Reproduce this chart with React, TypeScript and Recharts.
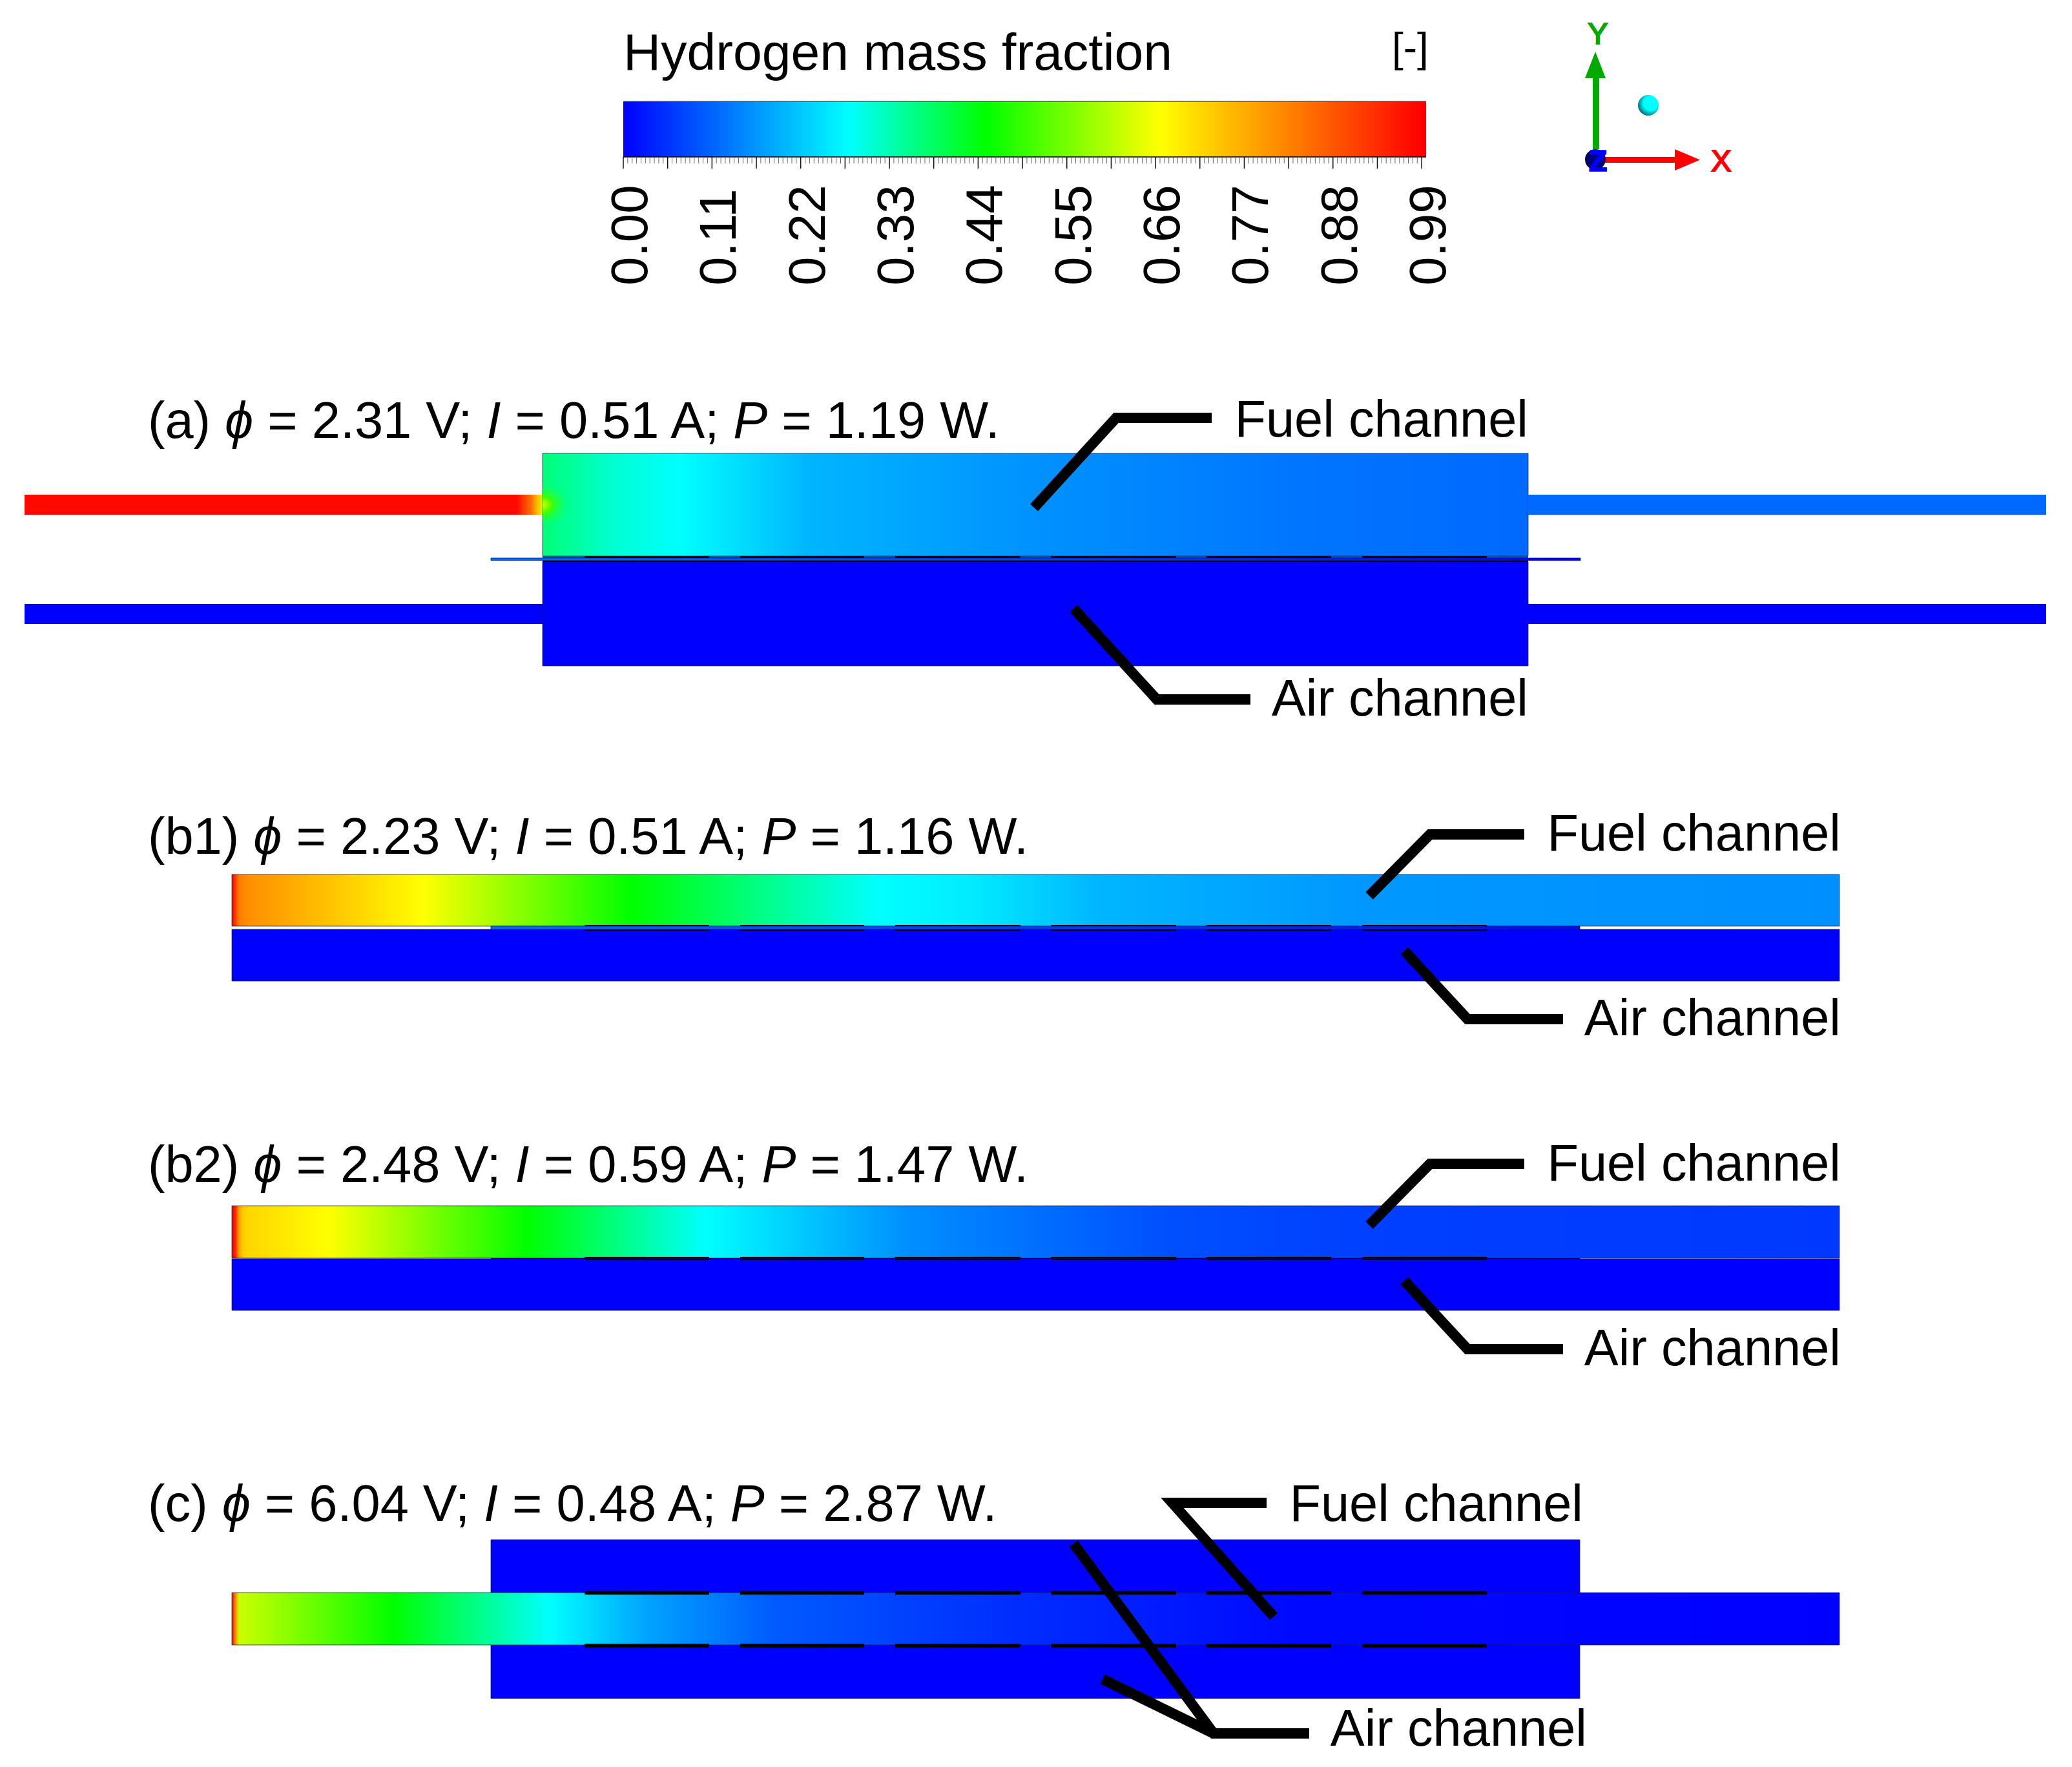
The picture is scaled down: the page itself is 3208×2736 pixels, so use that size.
import { Area, ComposedChart, Line, ReferenceArea, ReferenceDot, XAxis, YAxis } from 'recharts';

const FONT = '"Liberation Sans", Arial, sans-serif';

// hydrogen mass fraction -> rainbow colour, knots
const mapValues = [0, 0.28, 0.45, 0.665, 0.99];
const mapColors = [
  [0, 0, 255],
  [0, 255, 255],
  [0, 255, 0],
  [255, 255, 0],
  [255, 0, 0],
];
const barMax = 0.9955;

const barTicks = Array.from({ length: 181 }, (_, i) => Number((i * 0.0055).toFixed(4)));

// profiles along the channels: figure x position, hydrogen fraction
const inletAX = [38, 800, 822, 832, 840];
const inletAV = [0.98, 0.98, 0.85, 0.75, 0.62];
const boxAX = [840, 880, 950, 1054, 1250, 1600, 2000, 2366];
const boxAV = [0.37, 0.35, 0.31, 0.28, 0.2, 0.16, 0.13, 0.115];
const layerAX = [760, 1200, 1600, 2447];
const layerAV = [0.12, 0.09, 0.07, 0];

const fuelB1X = [359, 362, 370, 385, 655, 977, 1360, 1500, 1700, 2100, 2848];
const fuelB1V = [0.99, 0.95, 0.83, 0.806, 0.665, 0.45, 0.28, 0.26, 0.2, 0.167, 0.157];
const fuelB2X = [359, 364, 370, 378, 508, 816, 1093, 1405, 1600, 1800, 2100, 2848];
const fuelB2V = [0.99, 0.95, 0.78, 0.72, 0.665, 0.45, 0.28, 0.157, 0.123, 0.088, 0.07, 0.062];
const fuelCX = [359, 363, 370, 610, 852, 1000, 1200, 1560, 2000, 2848];
const fuelCV = [0.99, 0.85, 0.62, 0.45, 0.28, 0.18, 0.1, 0.05, 0.01, 0];
const layerBX = [760, 1200, 1700, 2446];
const layerBV = [0.12, 0.09, 0.06, 0.01];

const ribStarts = [905, 1146, 1386, 1627, 1868, 2109];
const ribEnds = [1098, 1338, 1580, 1821, 2061, 2302];

const panelTags = ['(a)', '(b1)', '(b2)', '(c)'];
const panelPhi = ['2.31', '2.23', '2.48', '6.04'];
const panelI = ['0.51', '0.51', '0.59', '0.48'];
const panelP = ['1.19', '1.16', '1.47', '2.87'];
const panelBaselines = [678, 1322, 1830, 2355];

const leaders = [
  [[1601, 786], [1728, 647], [1876, 647]],
  [[1662, 942], [1791, 1083], [1936, 1083]],
  [[2120, 1387], [2214, 1292], [2360, 1292]],
  [[2174, 1472], [2272, 1578], [2420, 1578]],
  [[2120, 1897], [2214, 1802], [2360, 1802]],
  [[2174, 1983], [2272, 2089], [2420, 2089]],
  [[1972, 2503], [1815, 2327], [1961, 2327]],
  [[1662, 2390], [1879, 2684], [2027, 2684]],
  [[1707, 2600], [1879, 2684]],
];

const channelNames = ['Fuel channel', 'Air channel', 'Fuel channel', 'Air channel', 'Fuel channel', 'Air channel', 'Fuel channel', 'Air channel'];
const channelNameX = [2366, 2366, 2850, 2850, 2850, 2850, 2451, 2457];
const channelNameY = [676, 1108, 1317, 1603, 1828, 2114, 2355, 2703];

function h2Color(v: number) {
  let k = 0;
  while (k < mapValues.length - 2 && v > mapValues[k + 1]) k++;
  const t = Math.min(1, Math.max(0, (v - mapValues[k]) / (mapValues[k + 1] - mapValues[k])));
  const c = mapColors[k].map((a, n) => Math.round(a + (mapColors[k + 1][n] - a) * t));
  return `rgb(${c[0]},${c[1]},${c[2]})`;
}

function ProfileGradient({ id, xs, vs }: { id: string; xs: number[]; vs: number[] }) {
  const first = xs[0];
  const span = xs[xs.length - 1] - first;
  return (
    <linearGradient id={id} x1="0" y1="0" x2="1" y2="0">
      {xs.map((x, i) => (
        <stop key={i} offset={(x - first) / span} stopColor={h2Color(vs[i])} />
      ))}
    </linearGradient>
  );
}

function box(key: string, x1: number, x2: number, y1: number, y2: number, fill: string, edge = true) {
  return (
    <ReferenceArea
      key={key}
      x1={x1}
      x2={x2}
      y1={y1}
      y2={y2}
      fill={fill}
      fillOpacity={1}
      stroke={edge ? '#1c1c40' : 'none'}
      strokeWidth={edge ? 1 : 0}
      strokeOpacity={0.75}
    />
  );
}

function ribs(key: string, y1: number, y2: number) {
  return ribStarts.map((s, i) => box(`${key}-${i}`, s, ribEnds[i], y1, y2, '#000', false));
}

function textAt(key: string, x: number, y: number, content: any, anchor = 'start', size = 80, fill = '#000', outline = 0) {
  return (
    <ReferenceDot
      key={key}
      x={x}
      y={y}
      r={0}
      shape={(p: any) => (
        <text
          x={p.cx}
          y={p.cy}
          fontFamily={FONT}
          fontSize={size}
          textAnchor={anchor}
          fill={fill}
          stroke={outline ? fill : 'none'}
          strokeWidth={outline}
        >
          {content}
        </text>
      )}
    />
  );
}

function triangle(key: string, x: number, y: number, pts: string, fill: string) {
  return (
    <ReferenceDot
      key={key}
      x={x}
      y={y}
      r={0}
      shape={(p: any) => <polygon transform={`translate(${p.cx},${p.cy})`} points={pts} fill={fill} />}
    />
  );
}

function BarTick({ x, y, payload }: any) {
  const i = Math.round(payload.value / 0.0055);
  const major = i % 10 === 0;
  return (
    <g>
      <line x1={x} x2={x} y1={y} y2={y + (major ? 18 : 10)} stroke={major ? '#111' : '#666'} strokeWidth={major ? 1.5 : 1} />
      {i % 20 === 0 && (
        <text
          transform={`translate(${x + 37},${y + 199}) rotate(-90)`}
          fontFamily={FONT}
          fontSize={80}
          fill="#000"
        >
          {payload.value.toFixed(2)}
        </text>
      )}
    </g>
  );
}

export default function App() {
  return (
    <div style={{ position: 'absolute', left: 0, top: 0, width: 3208, height: 2736, background: '#fff' }}>
      <div style={{ position: 'absolute', left: 0, top: 0 }}>
        <ComposedChart width={3208} height={2736} margin={{ top: 0, right: 0, bottom: 0, left: 0 }}>
          <defs>
            <ProfileGradient id="inletA" xs={inletAX} vs={inletAV} />
            <ProfileGradient id="boxA" xs={boxAX} vs={boxAV} />
            <ProfileGradient id="layerA" xs={layerAX} vs={layerAV} />
            <ProfileGradient id="fuelB1" xs={fuelB1X} vs={fuelB1V} />
            <ProfileGradient id="fuelB2" xs={fuelB2X} vs={fuelB2V} />
            <ProfileGradient id="fuelC" xs={fuelCX} vs={fuelCV} />
            <ProfileGradient id="layerB" xs={layerBX} vs={layerBV} />
            <radialGradient id="jet" cx="0" cy="0.5" r="1" gradientUnits="objectBoundingBox" gradientTransform="translate(0 0.5) scale(1 0.5) translate(0 -0.5)">
              <stop offset="0" stopColor="#d0ff00" />
              <stop offset="0.35" stopColor="#40ff00" stopOpacity={0.95} />
              <stop offset="1" stopColor="#00ff80" stopOpacity={0} />
            </radialGradient>
            <radialGradient id="ballCyan" cx="0.62" cy="0.4" r="0.62">
              <stop offset="0.55" stopColor="#00ffff" />
              <stop offset="1" stopColor="#007a80" />
            </radialGradient>
            <radialGradient id="ballNavy" cx="0.6" cy="0.4" r="0.65">
              <stop offset="0" stopColor="#0000a0" />
              <stop offset="1" stopColor="#000050" />
            </radialGradient>
          </defs>
          <XAxis type="number" dataKey="x" domain={[0, 3208]} hide />
          <YAxis type="number" domain={[0, 2736]} reversed hide />

          {/* (a) */}
          {box('a1', 38, 840, 766, 797, 'url(#inletA)', false)}
          {box('a2', 840, 2366, 702, 861, 'url(#boxA)')}
          {box('a3', 2366, 3168, 766, 797, h2Color(0.115), false)}
          {box('a4', 840, 884, 745, 818, 'url(#jet)', false)}
          {box('a5', 38, 840, 935, 966, h2Color(0), false)}
          {box('a6', 840, 2366, 870, 1031, h2Color(0))}
          {box('a7', 2366, 3168, 935, 966, h2Color(0), false)}
          {box('a8', 840, 2366, 861, 864, '#0f4ea0', false)}
          {ribs('a9', 861, 864)}
          {box('a10', 840, 2366, 868, 870, '#000', false)}
          {box('a11', 760, 2447, 864, 868, 'url(#layerA)')}

          {/* (b1) */}
          {box('b1', 359, 2848, 1354, 1434, 'url(#fuelB1)')}
          {box('b2', 359, 2848, 1439, 1519, h2Color(0))}
          {ribs('b3', 1432, 1441)}
          {box('b4', 760, 2446, 1434, 1439, 'url(#layerB)')}

          {/* (b2) */}
          {box('c1', 359, 2848, 1867, 1948, 'url(#fuelB2)')}
          {box('c2', 359, 2848, 1949, 2029, h2Color(0))}
          {ribs('c3', 1946, 1951)}
          {box('c4', 760, 2446, 1948, 1949.5, '#00006a', false)}

          {/* (c) */}
          {box('d1', 760, 2446, 2384, 2466, h2Color(0))}
          {box('d2', 760, 2446, 2547, 2630, h2Color(0))}
          {box('d3', 359, 2848, 2466, 2547, 'url(#fuelC)')}
          {ribs('d4', 2463, 2469)}
          {ribs('d5', 2545, 2551)}

          {leaders.map((pts, i) => (
            <Line
              key={i}
              data={pts.map(([x, y]) => ({ x, y }))}
              dataKey="y"
              stroke="#000"
              strokeWidth={16}
              strokeLinejoin="miter"
              strokeLinecap="butt"
              dot={false}
              activeDot={false}
              legendType="none"
              isAnimationActive={false}
            />
          ))}

          {/* axis triad */}
          <Line data={[{ x: 2471, y: 231 }, { x: 2471, y: 121 }]} dataKey="y" stroke="#00aa00" strokeWidth={10} dot={false} activeDot={false} isAnimationActive={false} />
          <Line data={[{ x: 2485, y: 247.5 }, { x: 2593, y: 247.5 }]} dataKey="y" stroke="#ff0000" strokeWidth={9} dot={false} activeDot={false} isAnimationActive={false} />
          {triangle('yHead', 2470, 80, '0,0 16,41 -16,41', '#00aa00')}
          {triangle('xHead', 2593, 247.5, '0,-16.5 39,0 0,16.5', '#ff0000')}
          <ReferenceDot x={2552} y={163} r={16} fill="url(#ballCyan)" stroke="none" />
          <ReferenceDot
            x={2470}
            y={247}
            r={16}
            shape={(p: any) => (
              <g>
                <circle cx={p.cx} cy={p.cy} r={16} fill="url(#ballNavy)" />
                <text x={p.cx + 4} y={p.cy + 18} fontFamily={FONT} fontSize={47} fontWeight="bold" textAnchor="middle" fill="#0000ff" stroke="#0000ff" strokeWidth={1.5}>
                  Z
                </text>
              </g>
            )}
          />
          {textAt('yLetter', 2474, 68, 'Y', 'middle', 47, '#00aa00', 2)}
          {textAt('xLetter', 2665, 265, 'X', 'middle', 47, '#ff0000', 2)}

          {textAt('barTitle', 965, 108, 'Hydrogen mass fraction', 'start', 80.5)}
          {textAt('barUnit', 2155, 96, '[-]', 'start', 64)}

          {panelTags.map((tag, i) =>
            textAt(
              `title${i}`,
              229,
              panelBaselines[i],
              <>
                {tag} <tspan fontStyle="italic">ϕ</tspan> = {panelPhi[i]} V; <tspan fontStyle="italic">I</tspan> = {panelI[i]} A;{' '}
                <tspan fontStyle="italic">P</tspan> = {panelP[i]} W.
              </>,
              'start',
              79.4,
            ),
          )}
          {channelNames.map((name, i) => textAt(`name${i}`, channelNameX[i], channelNameY[i], name, 'end', 79.4))}
        </ComposedChart>
      </div>

      <div style={{ position: 'absolute', left: 0, top: 0 }}>
        <ComposedChart
          width={3208}
          height={480}
          data={[...barTicks, barMax].map((x) => ({ x, top: 1 }))}
          margin={{ top: 157, right: 1000, bottom: 37, left: 965 }}
        >
          <defs>
            <linearGradient id="barFill" x1="0" y1="0" x2="1" y2="0">
              {mapValues.map((v, i) => (
                <stop key={i} offset={v / barMax} stopColor={h2Color(v)} />
              ))}
            </linearGradient>
          </defs>
          <XAxis
            type="number"
            dataKey="x"
            domain={[0, barMax]}
            ticks={barTicks}
            interval={0}
            height={200}
            tickSize={0}
            tickMargin={0}
            tickLine={false}
            axisLine={{ stroke: '#000', strokeWidth: 1.5 }}
            tick={<BarTick />}
          />
          <YAxis type="number" domain={[0, 1]} hide />
          <Area
            type="linear"
            dataKey="top"
            fill="url(#barFill)"
            fillOpacity={1}
            stroke="#555"
            strokeWidth={1.5}
            dot={false}
            activeDot={false}
            isAnimationActive={false}
          />
        </ComposedChart>
      </div>
    </div>
  );
}
